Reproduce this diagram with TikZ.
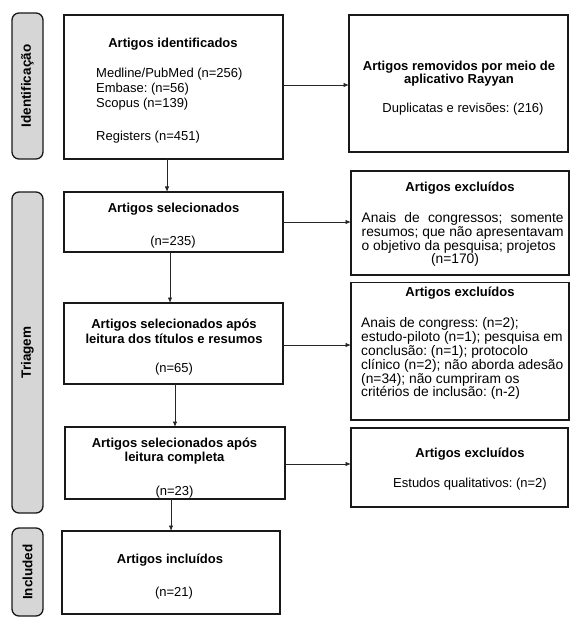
\documentclass[tikz,border=0pt]{standalone}
\usepackage{fontspec}
\setmainfont{Liberation Sans}
\usetikzlibrary{arrows.meta}
\frenchspacing
\begin{document}
\begin{tikzpicture}[x=1bp,y=-1bp,
  box/.style={draw=black!90, line width=1.2bp, inner sep=0pt, outer sep=0pt, fill=white},
  side/.style={draw=black!90, line width=1.3bp, fill=black!16, rounded corners=7bp, inner sep=0pt, outer sep=0pt, rotate=90, font=\fontsize{13.5bp}{15bp}\selectfont\bfseries},
  txt/.style={font=\fontsize{13bp}{15bp}\selectfont, inner sep=0pt, align=center},
  bigtxt/.style={font=\fontsize{13.8bp}{13.8bp}\selectfont, inner sep=0pt},
  ttl/.style={font=\fontsize{13bp}{15bp}\selectfont\bfseries, inner sep=0pt, align=center},
  arr/.style={draw=black!85, line width=0.9bp, -{Latex[length=5.5bp,width=4.5bp]}}]
\useasboundingbox (0,0) rectangle (580,631);

% side labels
\node[side, minimum width=146bp, minimum height=31bp] (s1) at (27.5,86) {Identificação};
\node[side, minimum width=321bp, minimum height=31bp] (s2) at (27.5,352.5) {Triagem};
\node[side, minimum width=88bp, minimum height=31bp] (s3) at (27.5,572) {Included};

% boxes
\node[box, minimum width=219bp, minimum height=144bp] (b1) at (173.5,87) {};
\node[box, minimum width=219bp, minimum height=137bp] (b2) at (458.5,83.5) {};
\node[box, minimum width=219bp, minimum height=60bp] (b3) at (173.5,222) {};
\node[box, minimum width=218bp, minimum height=104bp] (b4) at (460,223) {};
\node[box, minimum width=219bp, minimum height=81bp] (b5) at (173.5,343.5) {};
\node[box, minimum width=218bp, minimum height=137.5bp] (b6) at (460,351.2) {};
\node[box, minimum width=220bp, minimum height=72bp] (b7) at (175,463) {};
\node[box, minimum width=217bp, minimum height=79bp] (b8) at (459.5,467.5) {};
\node[box, minimum width=218bp, minimum height=83bp] (b9) at (171,572.5) {};

% texts box 1
\node[ttl] (t1) at (173,44) {Artigos identificados};
\node[txt, align=left, anchor=west] (t1b) at (96,105.7) {Medline/PubMed (n=256)\\Embase: (n=56)\\Scopus (n=139)\\[17.7bp]Registers (n=451)};
% box 2
\node[ttl, font=\fontsize{13bp}{13.3bp}\selectfont\bfseries] (t2) at (459,73.5) {Artigos removidos por meio de\\aplicativo Rayyan};
\node[txt] (t2b) at (463,109) {Duplicatas e revisões: (216)};
% box 3
\node[ttl] (t3) at (173.5,209) {Artigos selecionados};
\node[txt] (t3b) at (173,242) {(n=235)};
% box 4
\node[ttl] (t4) at (460,188.5) {Artigos excluídos};
\node[bigtxt, text width=202bp, align=justify, anchor=west] (t4b) at (361.5,232.7) {\parfillskip=0pt Anais de congressos; somente\linebreak resumos; que não apresentavam\linebreak o objetivo da pesquisa; projetos};
\node[bigtxt] (t4c) at (455,260) {(n=170)};
% box 5
\node[ttl] (t5) at (174,331.5) {Artigos selecionados após\\leitura dos títulos e resumos};
\node[txt] (t5b) at (174,369) {(n=65)};
% box 6
\node[ttl] (t6) at (460,292.7) {Artigos excluídos};
\node[bigtxt, align=left, anchor=west] (t6b) at (361,358.8) {Anais de congress: (n=2);\\estudo-piloto (n=1); pesquisa em\\conclusão: (n=1); protocolo\\clínico (n=2); não aborda adesão\\(n=34); não cumpriram os\\critérios de inclusão: (n-2)};
% box 7
\node[ttl, font=\fontsize{13bp}{14bp}\selectfont\bfseries] (t7) at (174.5,451) {Artigos selecionados após\\leitura completa};
\node[txt] (t7b) at (174.5,492) {(n=23)};
% box 8
\node[ttl] (t8) at (470,454) {Artigos excluídos};
\node[txt] (t8b) at (470,484) {Estudos qualitativos: (n=2)};
% box 9
\node[ttl] (t9) at (170,560) {Artigos incluídos};
\node[txt] (t9b) at (174,593) {(n=21)};

% arrows
\draw[arr] ([yshift=2pt]b1.east) -- ([yshift=2pt]b1.east -| b2.west);
\draw[arr] (b3.east) -- (b3.east -| b4.west);
\draw[arr] ([yshift=-1.5pt]b5.east) -- ([yshift=-1.5pt]b5.east -| b6.west);
\draw[arr] ([yshift=-1pt]b7.east) -- ([yshift=-1pt]b7.east -| b8.west);
\draw[arr] ([xshift=-6.5pt]b1.south) -- ([xshift=-6.5pt]b1.south |- b3.north);
\draw[arr] ([xshift=-3.5pt]b3.south) -- ([xshift=-3.5pt]b3.south |- b5.north);
\draw[arr] ([xshift=1.5pt]b5.south) -- ([xshift=1.5pt]b5.south |- b7.north);
\draw[arr] ([xshift=-4pt]b7.south) -- ([xshift=-4pt]b7.south |- b9.north);
\end{tikzpicture}
\end{document}
